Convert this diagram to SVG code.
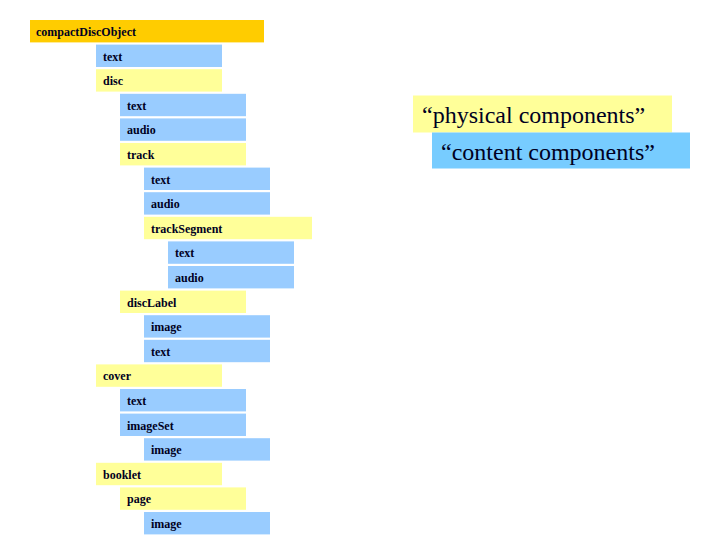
<svg xmlns="http://www.w3.org/2000/svg" width="720" height="540" viewBox="0 0 720 540">
<style>
.n text{font-family:'Liberation Serif','DejaVu Serif',serif;font-weight:bold;font-size:12px;fill:#000022}
.c{fill:#99CCFF}
.p{fill:#FFFF99}
.r{fill:#FFCC00}
.lg{font-family:'Liberation Serif','DejaVu Serif',serif;font-size:24px;fill:#000022}
</style>
<rect width="720" height="540" fill="#FFFFFF"/>
<g id="compactDiscObject" class="n"><rect class="r" x="30" y="20" width="234" height="22.4"/><text x="36" y="36">compactDiscObject</text></g>
<g id="text1" class="n"><rect class="c" x="96" y="44.6" width="126" height="22.4"/><text x="103" y="60.6">text</text></g>
<g id="disc" class="n"><rect class="p" x="96" y="69.2" width="126" height="22.4"/><text x="103" y="85.2">disc</text></g>
<g id="disc-text" class="n"><rect class="c" x="120" y="93.8" width="126" height="22.4"/><text x="127" y="109.8">text</text></g>
<g id="disc-audio" class="n"><rect class="c" x="120" y="118.4" width="126" height="22.4"/><text x="127" y="134.4">audio</text></g>
<g id="track" class="n"><rect class="p" x="120" y="143" width="126" height="22.4"/><text x="127" y="159">track</text></g>
<g id="track-text" class="n"><rect class="c" x="144" y="167.6" width="126" height="22.4"/><text x="151" y="183.6">text</text></g>
<g id="track-audio" class="n"><rect class="c" x="144" y="192.2" width="126" height="22.4"/><text x="151" y="208.2">audio</text></g>
<g id="trackSegment" class="n"><rect class="p" x="144" y="216.8" width="168" height="22.4"/><text x="151" y="232.8">trackSegment</text></g>
<g id="seg-text" class="n"><rect class="c" x="168" y="241.4" width="126" height="22.4"/><text x="175" y="257.4">text</text></g>
<g id="seg-audio" class="n"><rect class="c" x="168" y="266" width="126" height="22.4"/><text x="175" y="282">audio</text></g>
<g id="discLabel" class="n"><rect class="p" x="120" y="290.6" width="126" height="22.4"/><text x="127" y="306.6">discLabel</text></g>
<g id="label-image" class="n"><rect class="c" x="144" y="315.2" width="126" height="22.4"/><text x="151" y="331.2">image</text></g>
<g id="label-text" class="n"><rect class="c" x="144" y="339.8" width="126" height="22.4"/><text x="151" y="355.8">text</text></g>
<g id="cover" class="n"><rect class="p" x="96" y="364.4" width="126" height="22.4"/><text x="103" y="380.4">cover</text></g>
<g id="cover-text" class="n"><rect class="c" x="120" y="389" width="126" height="22.4"/><text x="127" y="405">text</text></g>
<g id="imageSet" class="n"><rect class="c" x="120" y="413.6" width="126" height="22.4"/><text x="127" y="429.6">imageSet</text></g>
<g id="set-image" class="n"><rect class="c" x="144" y="438.2" width="126" height="22.4"/><text x="151" y="454.2">image</text></g>
<g id="booklet" class="n"><rect class="p" x="96" y="462.8" width="126" height="22.4"/><text x="103" y="478.8">booklet</text></g>
<g id="page" class="n"><rect class="p" x="120" y="487.4" width="126" height="22.4"/><text x="127" y="503.4">page</text></g>
<g id="page-image" class="n"><rect class="c" x="144" y="512" width="126" height="22.4"/><text x="151" y="528">image</text></g>
<g id="legend-physical"><rect x="413" y="95.5" width="259" height="37" fill="#FFFF99"/><text class="lg" x="422" y="123">“physical components”</text></g>
<g id="legend-content"><rect x="432" y="132.5" width="258" height="36" fill="#77CCFF"/><text class="lg" x="441" y="160">“content components”</text></g>
</svg>
